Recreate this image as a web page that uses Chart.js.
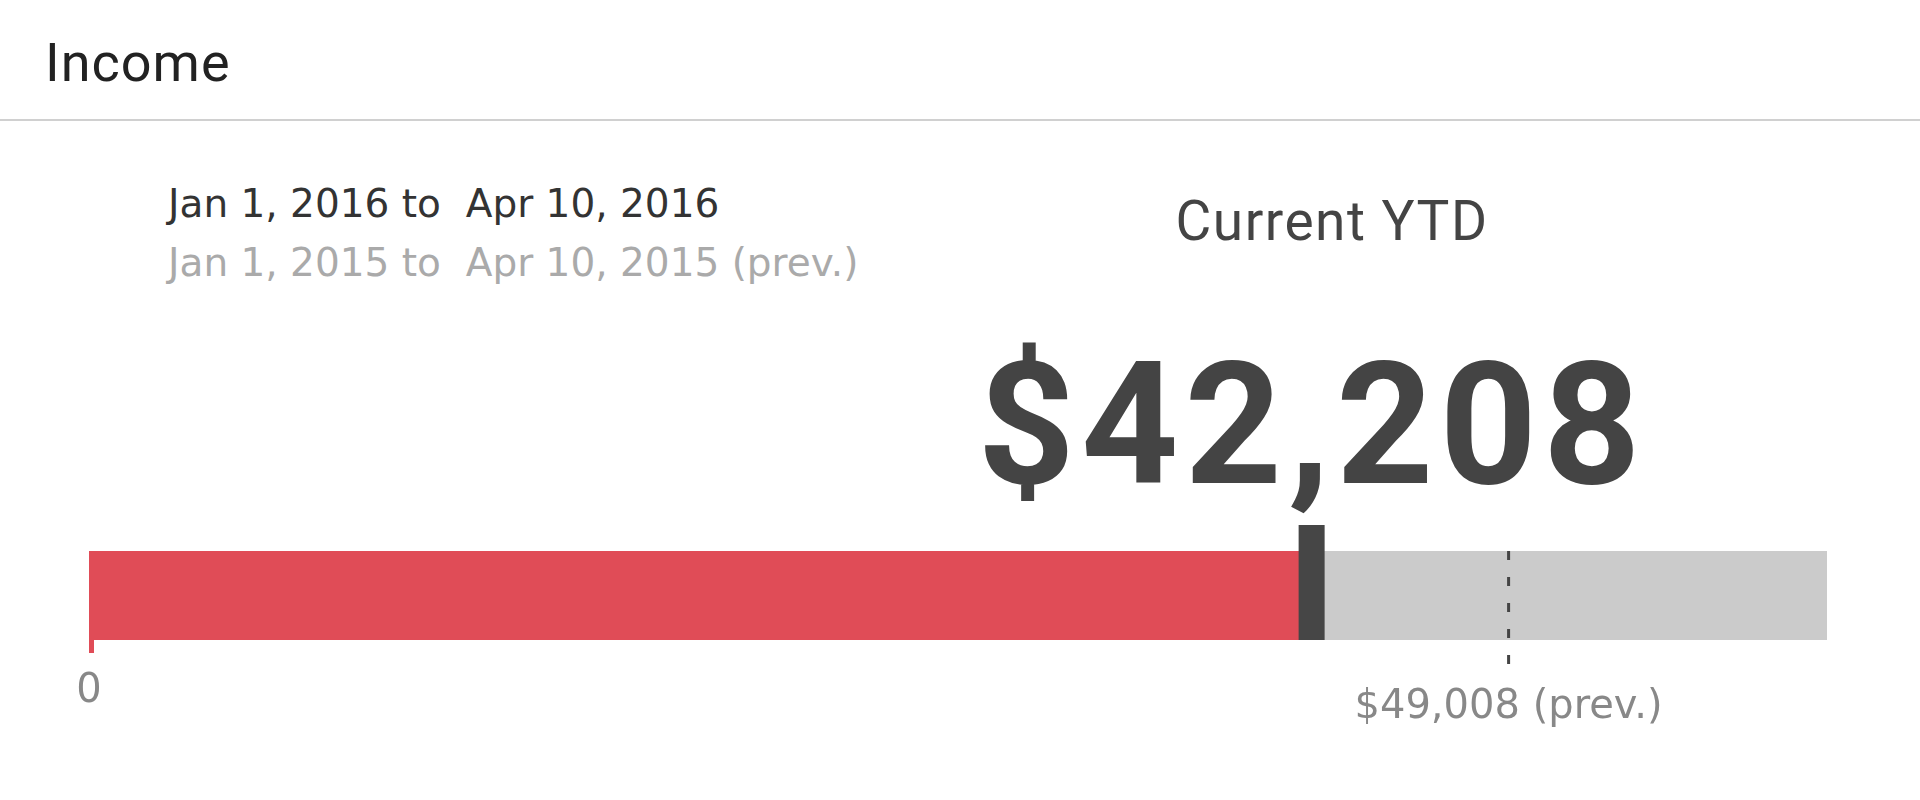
<!DOCTYPE html>
<html>
<head>
<meta charset="utf-8">
<title>Income</title>
<script src="https://cdn.jsdelivr.net/npm/chart.js@4.4.1/dist/chart.umd.min.js"></script>
<style>
    body { margin: 0; background: #ffffff; width: 1920px; height: 800px; overflow: hidden; position: relative; }
    .txt { position: absolute; line-height: 1; white-space: pre; }
    #title { left: 45px; top: 31px; font: 400 54px Roboto; color: #222222; letter-spacing: 1px; }
    #rule { position: absolute; left: 0; top: 119px; width: 1920px; height: 2px; background: #d0d0d0; }
    #cur { left: 168px; top: 181px; font: 400 39px "DejaVu Sans"; color: #333333; }
    #prev { left: 168px; top: 240px; font: 400 39px "DejaVu Sans"; color: #aaaaaa; }
    #ytd { left: 1032px; width: 600px; top: 189px; text-align: center; font: 400 55px Roboto; color: #444444; letter-spacing: 1.5px; }
    #big { left: 906px; width: 800px; top: 325px; text-align: center; font: 700 170px Roboto; color: #444444; letter-spacing: 6px; padding-left: 6px; }
    #chart { position: absolute; left: 0; top: 500px; }
</style>
</head>
<body>
<div class="txt" id="title">Income</div>
<div id="rule"></div>
<div class="txt" id="cur">Jan 1, 2016 to  Apr 10, 2016</div>
<div class="txt" id="prev">Jan 1, 2015 to  Apr 10, 2015 (prev.)</div>
<div class="txt" id="ytd">Current YTD</div>
<div class="txt" id="big"></div>
<canvas id="chart" width="1920" height="270"></canvas>
<script>
    // values
    let categories = ["Income"];
    let currentYTD = [42208];
    let previousYTD = [49008];
    let rangeMax = [60000];
    let tickValues = [0, 49008];

    function money(v)
    {
        return "$" + v.toLocaleString("en-US");
    }

    document.getElementById("big").textContent = money(currentYTD[0]);

    // marker for current value, dashed line for previous value, small red tick at zero
    let bulletMarks = {
        id: "bulletMarks",
        afterDatasetsDraw: function(chart)
        {
            let ctx = chart.ctx;
            let x = chart.scales.x;
            let area = chart.chartArea;

            ctx.save();
            ctx.fillStyle = "#e04c57";
            let x0 = x.getPixelForValue(0);
            ctx.fillRect(x0, area.bottom - 1, 5, 14);

            let xp = x.getPixelForValue(previousYTD[0]);
            ctx.strokeStyle = "#444444";
            ctx.lineWidth = 3;
            ctx.setLineDash([9, 17]);
            ctx.beginPath();
            ctx.moveTo(xp, area.top);
            ctx.lineTo(xp, area.bottom + 27);
            ctx.stroke();
            ctx.setLineDash([]);

            let xc = x.getPixelForValue(currentYTD[0]);
            ctx.fillStyle = "#464646";
            ctx.fillRect(xc - 13, area.top - 26, 26, area.bottom - area.top + 26);
            ctx.restore();
        }
    };

    let myChart = document.getElementById("chart").getContext("2d");
    let display = new Chart(myChart,
    {
        type: "bar",
        data:
        {
            labels: categories,
            datasets: [
                {
                    label: "Current YTD",
                    data: currentYTD,
                    backgroundColor: "#e04c57",
                    borderWidth: 0,
                    order: 1
                },
                {
                    label: "Range",
                    data: rangeMax,
                    backgroundColor: "#cbcbcb",
                    borderWidth: 0,
                    order: 2
                }
            ]
        },
        options:
        {
            indexAxis: "y",
            responsive: false,
            animation: false,
            devicePixelRatio: 1,
            grouped: false,
            categoryPercentage: 1,
            barPercentage: 1,
            layout: { padding: { left: 89, right: 93, top: 51, bottom: 41 } },
            plugins: {
                legend: { display: false },
                tooltip: { enabled: false }
            },
            scales: {
                y: { display: false },
                x: {
                    min: 0,
                    max: rangeMax[0],
                    grid: { display: false, drawTicks: false },
                    border: { display: false },
                    afterBuildTicks: function(scale)
                    {
                        scale.ticks = tickValues.map(function(v) { return { value: v }; });
                    },
                    ticks: {
                        padding: 28,
                        color: "#888888",
                        maxRotation: 0,
                        autoSkip: false,
                        font: function(c)
                        {
                            let isPrev = c.tick && c.tick.value !== 0;
                            return { family: "DejaVu Sans", size: 40, lineHeight: isPrev ? 1.975 : 1.2 };
                        },
                        callback: function(v)
                        {
                            return v === 0 ? "0" : money(v) + " (prev.)";
                        }
                    }
                }
            }
        },
        plugins: [bulletMarks]
    });
</script>
</body>
</html>
